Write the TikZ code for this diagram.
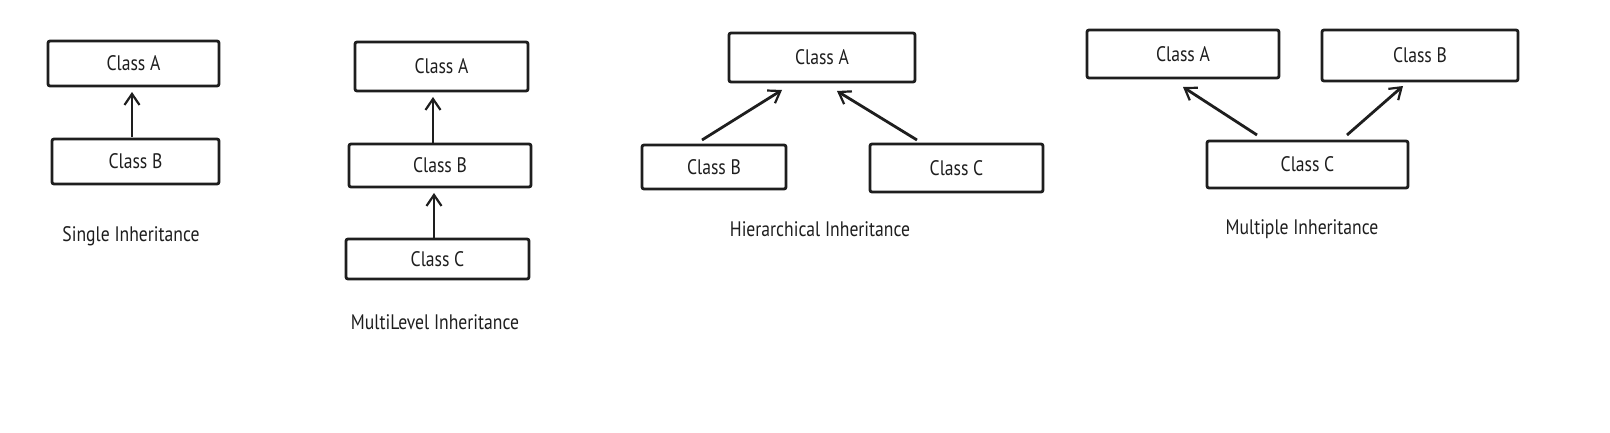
\documentclass[tikz,border=0pt]{standalone}
\usepackage{fontspec}
\setmainfont{PT Sans}[FakeStretch=0.84]
\usetikzlibrary{arrows.meta}
\definecolor{ink}{HTML}{1E1E1E}
\tikzset{
  cls/.style={draw=ink, line width=2.8pt, rounded corners=2pt, inner sep=0pt, font=\fontsize{21}{24}\selectfont, text=ink},
  inh/.style={draw=ink, line width=2.8pt, -{Straight Barb[length=11pt,width=15pt,line width=2.2pt]}},
  lbl/.style={font=\fontsize{21}{24}\selectfont, text=ink}
}
\begin{document}
\begin{tikzpicture}[x=1pt,y=-1pt]
\useasboundingbox[fill=white] (0,0) rectangle (1610,433);
% Single
\node[cls, minimum width=171pt, minimum height=45pt] (sA) at (133.5,63.5) {Class A};
\node[cls, minimum width=167pt, minimum height=45pt] (sB) at (135.5,161.5) {Class B};
\coordinate (s1) at (132,137); \coordinate (s2) at (132,92);
\draw[inh] (s1) -- (s2);
\node[lbl] (sL) at (131,236) {Single Inheritance};
% MultiLevel
\node[cls, minimum width=173pt, minimum height=49pt] (mA) at (441.5,66.5) {Class A};
\node[cls, minimum width=182pt, minimum height=43pt] (mB) at (440,165.5) {Class B};
\node[cls, minimum width=183pt, minimum height=40pt] (mC) at (437.5,259) {Class C};
\coordinate (m1) at (433,143); \coordinate (m2) at (433,97);
\coordinate (m3) at (434,239); \coordinate (m4) at (434,193);
\draw[inh] (m1) -- (m2);
\draw[inh] (m3) -- (m4);
\node[lbl] (mL) at (435,322) {MultiLevel Inheritance};
% Hierarchical
\node[cls, minimum width=186pt, minimum height=49pt] (hA) at (822,57.5) {Class A};
\node[cls, minimum width=144pt, minimum height=44pt] (hB) at (714,167) {Class B};
\node[cls, minimum width=173pt, minimum height=48pt] (hC) at (956.5,168) {Class C};
\coordinate (h1) at (702,140); \coordinate (h2) at (782,90);
\coordinate (h3) at (917,140); \coordinate (h4) at (837,91);
\draw[inh] (h1) -- (h2);
\draw[inh] (h3) -- (h4);
\node[lbl] (hL) at (820,229) {Hierarchical Inheritance};
% Multiple
\node[cls, minimum width=192pt, minimum height=48pt] (pA) at (1183,54) {Class A};
\node[cls, minimum width=196pt, minimum height=51pt] (pB) at (1420,55.5) {Class B};
\node[cls, minimum width=201pt, minimum height=47pt] (pC) at (1307.5,164.5) {Class C};
\coordinate (p1) at (1257,135); \coordinate (p2) at (1183,87);
\coordinate (p3) at (1347,135); \coordinate (p4) at (1403,86);
\draw[inh] (p1) -- (p2);
\draw[inh] (p3) -- (p4);
\node[lbl] (pL) at (1302,229) {Multiple Inheritance};
\end{tikzpicture}
\end{document}
